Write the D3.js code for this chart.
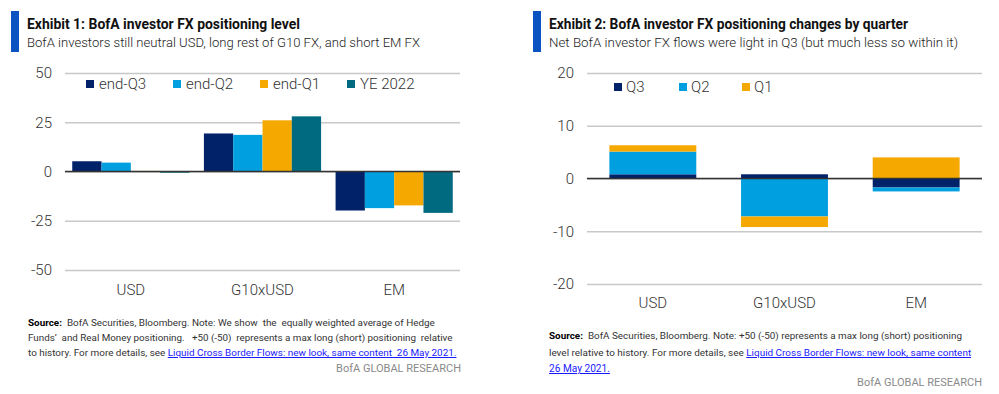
<!DOCTYPE html>
<html>
<head>
<meta charset="utf-8">
<script src="https://cdn.jsdelivr.net/npm/d3@7"></script>
<style>
    body { margin: 0; background: #fff; }
    svg { display: block; font-family: Roboto, "Liberation Sans", sans-serif; }
</style>
</head>
<body>
<svg id="chart" width="999" height="394"></svg>
<script>
// categories and series
var categories = ["USD", "G10xUSD", "EM"];

var levelKeys = ["end-Q3", "end-Q2", "end-Q1", "YE 2022"];
var endQ3 = [5.2, 19.3, -19.8];
var endQ2 = [4.5, 18.6, -18.6];
var endQ1 = [0.3, 26, -17.2];
var ye2022 = [-0.6, 28, -21];
var levelTicks = [-50, -25, 0, 25, 50];

var changeKeys = ["Q3", "Q2", "Q1"];
var q3 = [0.8, 0.8, -1.7];
var q2 = [4.3, -7.2, -0.75];
var q1 = [1.2, -2.0, 4.0];
var changeTicks = [-20, -10, 0, 10, 20];

var colors = {
    "end-Q3": "#012169", "end-Q2": "#009fe0", "end-Q1": "#f5a900", "YE 2022": "#006a80",
    "Q3": "#012169", "Q2": "#009fe0", "Q1": "#f5a900"
};

var svg = d3.select("#chart");
svg.append("rect").attr("width", 999).attr("height", 394).attr("fill", "#fff");

/**
 * Header: accent bar, title, subtitle
 */
function header(x, title, titleW, subtitle, subW) {
    svg.append("rect")
        .attr("x", x - 16).attr("y", 11)
        .attr("width", 8).attr("height", 41)
        .attr("fill", "#0b53c1");
    svg.append("text")
        .attr("x", x).attr("y", 28.5)
        .attr("font-size", 14.5).attr("font-weight", 700)
        .attr("fill", "#111")
        .attr("textLength", titleW).attr("lengthAdjust", "spacingAndGlyphs")
        .text(title);
    svg.append("text")
        .attr("x", x).attr("y", 47)
        .attr("font-size", 13.5).attr("font-weight", 300)
        .attr("fill", "#222")
        .attr("textLength", subW).attr("lengthAdjust", "spacingAndGlyphs")
        .text(subtitle);
}

/**
 * Footer: source note lines, with bold lead and link parts.
 * Font size is shrunk so each line fits the width seen in the picture.
 */
function footer(x, lines, ys, widths, rightX, brandY) {
    lines.forEach(function (parts, i) {
        var t = svg.append("text")
            .attr("x", x).attr("y", ys[i])
            .attr("font-size", 11).attr("fill", "#333")
            .attr("xml:space", "preserve");
        parts.forEach(function (p) {
            var s = t.append("tspan").text(p.t);
            if (p.bold) s.attr("font-weight", 700).attr("fill", "#000");
            if (p.link) s.attr("fill", "#1a1aff").style("text-decoration", "underline");
        });
        var len = t.node().getComputedTextLength();
        if (len > widths[i]) t.attr("font-size", 11 * widths[i] / len);
    });
    svg.append("text")
        .attr("x", rightX).attr("y", brandY)
        .attr("text-anchor", "end")
        .attr("font-size", 11).attr("fill", "#8a8a8a")
        .text("BofA GLOBAL RESEARCH");
}

/**
 * Y grid + tick labels, category labels
 */
function axes(y, x, ticks, left, right, labelY) {
    var g = svg.append("g")
        .attr("transform", "translate(" + left + ",0)")
        .call(d3.axisLeft(y).tickValues(ticks)
            .tickFormat(function (d) { return String(d); })
            .tickSize(-(right - left)).tickPadding(13));
    g.select(".domain").remove();
    g.selectAll("line").attr("stroke", "#c8c8c8").attr("stroke-width", 1.6);
    g.selectAll("text").attr("font-size", 15).attr("fill", "#333")
        .attr("font-family", "Roboto").attr("font-weight", 300);

    var gx = svg.append("g")
        .attr("transform", "translate(0," + labelY + ")")
        .call(d3.axisBottom(x).tickSize(0).tickPadding(0));
    gx.select(".domain").remove();
    gx.selectAll("text").attr("font-size", 15).attr("fill", "#333")
        .attr("font-family", "Roboto").attr("font-weight", 300).attr("dy", "0.35em");
}

function zeroLine(y, left, right) {
    svg.append("line")
        .attr("x1", left).attr("x2", right)
        .attr("y1", y(0)).attr("y2", y(0))
        .attr("stroke", "#333").attr("stroke-width", 1.6);
}

function legend(keys, xs, cy, gap) {
    var lg = svg.append("g");
    keys.forEach(function (k, i) {
        lg.append("rect")
            .attr("x", xs[i]).attr("y", cy - 4)
            .attr("width", 8).attr("height", 8)
            .attr("fill", colors[k]);
        lg.append("text")
            .attr("x", xs[i] + gap).attr("y", cy)
            .attr("dy", "0.35em")
            .attr("font-size", 15).attr("font-weight", 300).attr("fill", "#333")
            .text(k);
    });
}

// ---------- Exhibit 1: grouped bars ----------
header(27, "Exhibit 1: BofA investor FX positioning level", 273,
    "BofA investors still neutral USD, long rest of G10 FX, and short EM FX", 393);

var levelRows = categories.map(function (c, i) {
    return {cat: c, "end-Q3": endQ3[i], "end-Q2": endQ2[i], "end-Q1": endQ1[i], "YE 2022": ye2022[i]};
});

var y1 = d3.scaleLinear().domain([-50, 50]).range([270, 73]);
var x0 = d3.scaleBand().domain(categories).range([65, 460]).paddingInner(0.11).paddingOuter(0.055);
var xg = d3.scaleBand().domain(levelKeys).range([0, x0.bandwidth()]);

axes(y1, x0, levelTicks, 65, 460, 290);

svg.append("g").selectAll("g")
    .data(levelRows)
    .enter().append("g")
    .attr("transform", function (d) { return "translate(" + x0(d.cat) + ",0)"; })
    .selectAll("rect")
    .data(function (d) { return levelKeys.map(function (k) { return {key: k, value: d[k]}; }); })
    .enter().append("rect")
    .attr("x", function (d) { return xg(d.key); })
    .attr("width", xg.bandwidth())
    .attr("y", function (d) { return y1(Math.max(0, d.value)); })
    .attr("height", function (d) { return Math.abs(y1(d.value) - y1(0)); })
    .attr("fill", function (d) { return colors[d.key]; });

zeroLine(y1, 65, 460);
legend(levelKeys, [86, 173, 260, 347], 84, 13);

footer(28, [
    [{t: "Source:", bold: true}, {t: "  BofA Securities, Bloomberg. Note: We show  the  equally weighted average of Hedge"}],
    [{t: "Funds’  and Real Money positioning.   +50 (-50)  represents a max long (short) positioning  relative"}],
    [{t: "to history. For more details, see "}, {t: "Liquid Cross Border Flows: new look, same content  26 May 2021.", link: true}]
], [326, 341, 356], [407, 425, 429], 461, 372);

// ---------- Exhibit 2: stacked (diverging) bars ----------
header(549, "Exhibit 2: BofA investor FX positioning changes by quarter", 359,
    "Net BofA investor FX flows were light in Q3 (but much less so within it)", 409);

var changeRows = categories.map(function (c, i) {
    return {cat: c, Q3: q3[i], Q2: q2[i], Q1: q1[i]};
});

var y2 = d3.scaleLinear().domain([-20, 20]).range([284, 73]);
var x2 = d3.scaleBand().domain(categories).range([587, 982]).paddingInner(0.34).paddingOuter(0.17);

axes(y2, x2, changeTicks, 587, 982, 303);

var stacked = d3.stack().keys(changeKeys).offset(d3.stackOffsetDiverging)(changeRows);

svg.append("g").selectAll("g")
    .data(stacked)
    .enter().append("g")
    .attr("fill", function (s) { return colors[s.key]; })
    .selectAll("rect")
    .data(function (s) { return s; })
    .enter().append("rect")
    .attr("x", function (d) { return x2(d.data.cat); })
    .attr("width", x2.bandwidth())
    .attr("y", function (d) { return y2(Math.max(d[0], d[1])); })
    .attr("height", function (d) { return Math.abs(y2(d[0]) - y2(d[1])); });

zeroLine(y2, 587, 982);
legend(changeKeys, [614, 679, 742], 87, 12);

footer(549, [
    [{t: "Source:", bold: true}, {t: "  BofA Securities, Bloomberg. Note: +50 (-50) represents a max long (short) positioning"}],
    [{t: "level relative to history. For more details, see "}, {t: "Liquid Cross Border Flows: new look, same content", link: true}],
    [{t: "26 May 2021.", link: true}]
], [339, 356, 372], [414, 423, 61], 982, 386);
</script>
</body>
</html>
